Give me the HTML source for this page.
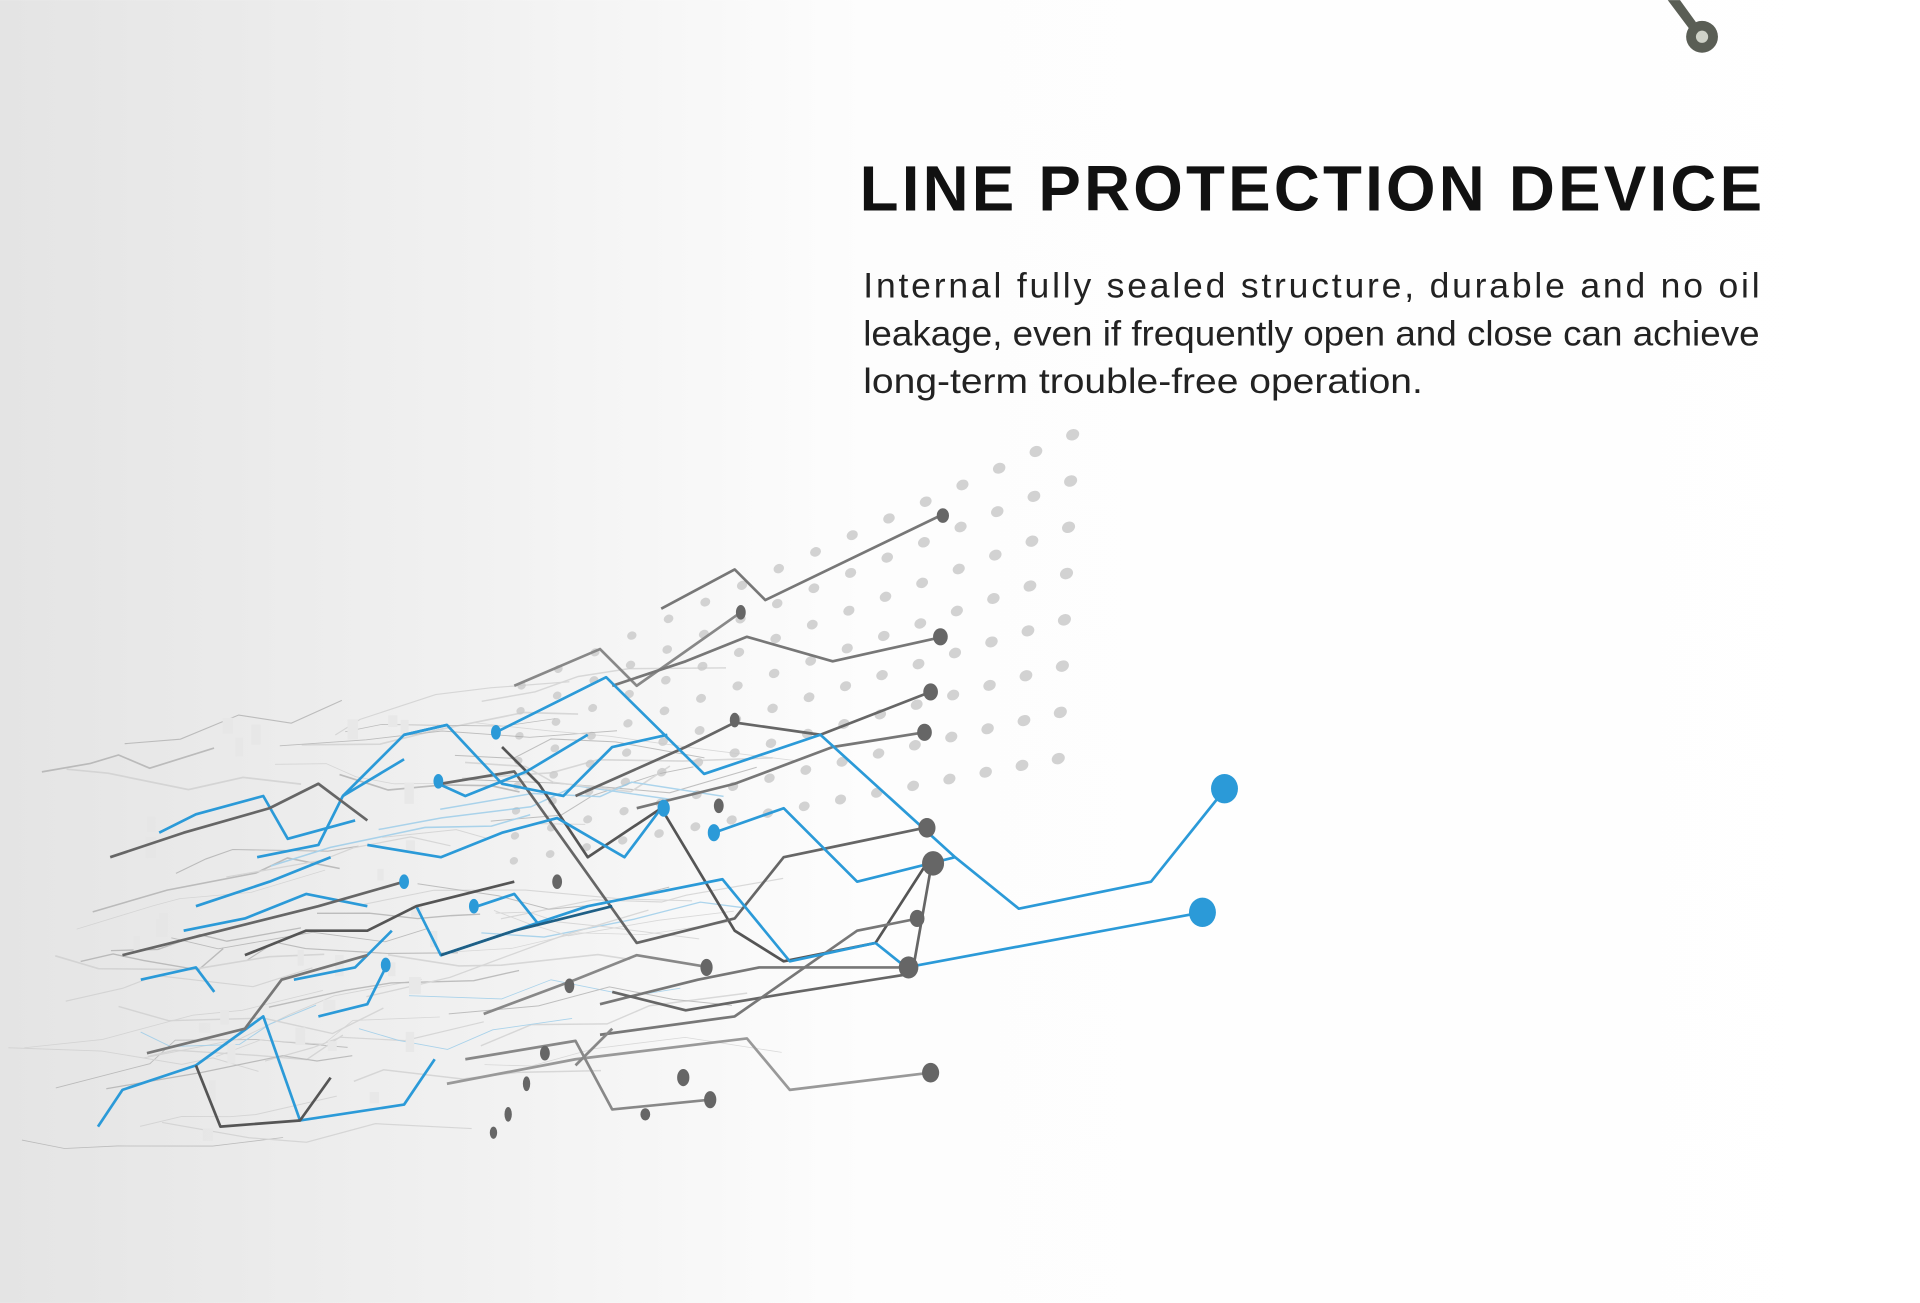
<!DOCTYPE html>
<html><head><meta charset="utf-8">
<style>
html,body{margin:0;padding:0;}
body{width:1920px;height:1303px;overflow:hidden;background:#fff;}
svg{display:block;}
</style></head>
<body>
<svg id="s" width="1920" height="1303" viewBox="0 0 1568 1064" xmlns="http://www.w3.org/2000/svg">
<defs>
<linearGradient id="bg" x1="0" y1="0" x2="1" y2="0">
<stop offset="0" stop-color="#e4e4e4"/>
<stop offset="0.25" stop-color="#f1f1f1"/>
<stop offset="0.45" stop-color="#fdfdfd"/>
<stop offset="1" stop-color="#ffffff"/>
</linearGradient>
</defs>
<rect width="1568" height="1064" fill="url(#bg)"/>
<g id="dots" fill="#d2d2d2"></g>
<g id="tex" fill="none" stroke-width="1" opacity="0.7"></g>
<g id="main" fill="none" stroke-width="2.2" stroke-linejoin="round">
<polyline stroke="#777" points="540,497 600,465 625,490 770,420"/>
<polyline stroke="#888" points="420,560 490,530 520,560 605,500"/>
<polyline stroke="#777" points="500,560 560,540 610,520 680,540 770,520"/>
<polyline stroke="#666" points="470,650 560,610 600,590 670,600 760,565"/>
<polyline stroke="#777" points="520,660 600,640 680,610 755,598"/>
<polyline stroke="#555" points="410,610 440,640 480,700 540,660 600,760 640,785 715,770 760,700"/>
<polyline stroke="#666" points="360,640 420,630 470,700 520,770 600,750 640,700 760,675"/>
<polyline stroke="#777" points="490,820 570,800 620,790 740,790"/>
<polyline stroke="#666" points="500,810 560,825 650,810 745,795 760,710"/>
<polyline stroke="#888" points="395,828 470,800 520,780 580,790"/>
<polyline stroke="#999" points="365,885 470,865 610,848 645,890 760,876"/>
<polyline stroke="#888" points="380,865 470,850 500,906 580,898"/>
<polyline stroke="#777" points="490,845 600,830 700,760 750,750"/>
<polyline stroke="#888" points="470,870 500,840"/>
<polyline stroke="#2b9ad8" points="405,598 495,553 575,632 670,600 780,700 832,742 940,720 1000,645"/>
<polyline stroke="#2b9ad8" points="583,680 640,660 700,720 780,700"/>
<polyline stroke="#2b9ad8" points="715,770 740,790 982,745"/>
<polyline stroke="#2b9ad8" points="330,600 365,592 410,640 460,650 500,610 545,600"/>
<polyline stroke="#2b9ad8" points="358,640 380,650 430,630 480,600"/>
<polyline stroke="#2b9ad8" points="300,690 360,700 410,680 455,668 510,700 540,660"/>
<polyline stroke="#2b9ad8" points="340,740 360,780 420,760 480,740 590,718 645,785 715,770"/>
<polyline stroke="#2b9ad8" points="280,650 330,600 365,592"/>
<polyline stroke="#2b9ad8" points="390,740 420,730 440,755"/>
<polyline stroke="#1f5f85" points="360,780 420,760 500,740"/>
<polyline stroke="#2b9ad8" points="240,800 290,790 320,760"/>
<polyline stroke="#2b9ad8" points="150,760 200,750 250,730 300,740"/>
<polyline stroke="#2b9ad8" points="80,920 100,890 160,870 215,830 245,915 330,902 355,865"/>
<polyline stroke="#2b9ad8" points="130,680 160,665 215,650 235,685 290,670"/>
<polyline stroke="#2b9ad8" points="210,700 260,690 280,650 330,620"/>
<polyline stroke="#2b9ad8" points="160,740 220,720 270,700"/>
<polyline stroke="#2b9ad8" points="115,800 160,790 175,810"/>
<polyline stroke="#2b9ad8" points="260,830 300,820 315,790"/>
<polyline stroke="#555" points="160,870 180,920 245,915 270,880"/>
<polyline stroke="#666" points="100,780 180,760 260,740 330,720"/>
<polyline stroke="#666" points="90,700 150,680 220,660 260,640 300,670"/>
<polyline stroke="#777" points="120,860 200,840 230,800 300,780"/>
<polyline stroke="#555" points="200,780 250,760 300,760 340,740 420,720"/>
</g>
<g fill="#2b9ad8">
<ellipse cx="1000" cy="644" rx="11" ry="12"/>
<ellipse cx="982" cy="745" rx="11" ry="12"/>
<ellipse cx="583" cy="680" rx="5" ry="7"/>
<ellipse cx="405" cy="598" rx="4" ry="6"/>
<ellipse cx="358" cy="638" rx="4" ry="6"/>
<ellipse cx="542" cy="660" rx="5" ry="7"/>
<ellipse cx="330" cy="720" rx="4" ry="6"/>
<ellipse cx="387" cy="740" rx="4" ry="6"/>
<ellipse cx="315" cy="788" rx="4" ry="6"/>
</g>
<g fill="#666">
<ellipse cx="770" cy="421" rx="5" ry="6"/>
<ellipse cx="605" cy="500" rx="4" ry="6"/>
<ellipse cx="768" cy="520" rx="6" ry="7"/>
<ellipse cx="760" cy="565" rx="6" ry="7"/>
<ellipse cx="755" cy="598" rx="6" ry="7"/>
<ellipse cx="757" cy="676" rx="7" ry="8"/>
<ellipse cx="762" cy="705" rx="9" ry="10"/>
<ellipse cx="749" cy="750" rx="6" ry="7"/>
<ellipse cx="742" cy="790" rx="8" ry="9"/>
<ellipse cx="760" cy="876" rx="7" ry="8"/>
<ellipse cx="580" cy="898" rx="5" ry="7"/>
<ellipse cx="527" cy="910" rx="4" ry="5"/>
<ellipse cx="558" cy="880" rx="5" ry="7"/>
<ellipse cx="577" cy="790" rx="5" ry="7"/>
<ellipse cx="465" cy="805" rx="4" ry="6"/>
<ellipse cx="445" cy="860" rx="4" ry="6"/>
<ellipse cx="430" cy="885" rx="3" ry="6"/>
<ellipse cx="415" cy="910" rx="3" ry="6"/>
<ellipse cx="403" cy="925" rx="3" ry="5"/>
<ellipse cx="600" cy="588" rx="4" ry="6"/>
<ellipse cx="587" cy="658" rx="4" ry="6"/>
<ellipse cx="455" cy="720" rx="4" ry="6"/>
</g>
<g>
<path d="M1362,0 L1372,0 L1385,18 L1380,24 Z" fill="#5a5e55"/>
<circle cx="1390" cy="30" r="13" fill="#5a5e55"/>
<circle cx="1390" cy="30" r="5" fill="#cfd2c8"/>
</g>
<text x="702" y="172" font-family="'Liberation Sans',sans-serif" font-weight="bold" font-size="52" fill="#111" textLength="737" lengthAdjust="spacing">LINE PROTECTION DEVICE</text>
<g font-family="'Liberation Sans',sans-serif" font-size="29" fill="#222">
<text x="705" y="243" textLength="732" lengthAdjust="spacing">Internal fully sealed structure, durable and no oil</text>
<text x="705" y="282" textLength="732" lengthAdjust="spacingAndGlyphs">leakage, even if frequently open and close can achieve</text>
<text x="705" y="321" textLength="457" lengthAdjust="spacingAndGlyphs">long-term trouble-free operation.</text>
</g>
</svg>
<script>
(function(){
var NS="http://www.w3.org/2000/svg";
var d=document.getElementById("dots");
for(var i=0;i<16;i++){
  var x=876-i*30;
  var t=i/15;
  var top=355+t*205, bot=615+t*90;
  var step=37-t*17;
  var w=5.5-t*2, h=4.5-t*1.5;
  for(var y=top;y<=bot;y+=step){
    var e=document.createElementNS(NS,"ellipse");
    e.setAttribute("cx",x+(y-top)*-0.05);e.setAttribute("cy",y);
    e.setAttribute("rx",w);e.setAttribute("ry",h);
    e.setAttribute("transform","rotate(-25 "+x+" "+y+")");
    d.appendChild(e);
  }
}
var s=12345;function r(){s=(s*16807)%2147483647;return s/2147483647;}
var g=document.getElementById("tex");
for(var k=0;k<60;k++){
  var x=5+r()*420, y=620+r()*330 - x*0.15;
  var pts=[[x,y]];
  for(var j=0;j<4;j++){
    x+=20+r()*60; y+=(r()-0.6)*35;
    pts.push([x,y]);
  }
  var p=document.createElementNS(NS,"polyline");
  p.setAttribute("points",pts.map(function(a){return a[0].toFixed(1)+","+a[1].toFixed(1);}).join(" "));
  var c=r();
  p.setAttribute("stroke",c<0.12?"#8cc6e8":(c<0.45?"#a8a8a8":"#cccccc"));
  p.setAttribute("stroke-width",(0.6+r()*0.8).toFixed(2));
  g.appendChild(p);
}
for(var k=0;k<30;k++){
  var x=60+r()*300,y=600+r()*340-x*0.1;
  var re=document.createElementNS(NS,"rect");
  re.setAttribute("x",x);re.setAttribute("y",y);re.setAttribute("width",5+r()*6);re.setAttribute("height",8+r()*10);
  re.setAttribute("fill","#e6e6e6");g.appendChild(re);
}
})();
</script>
</body></html>
